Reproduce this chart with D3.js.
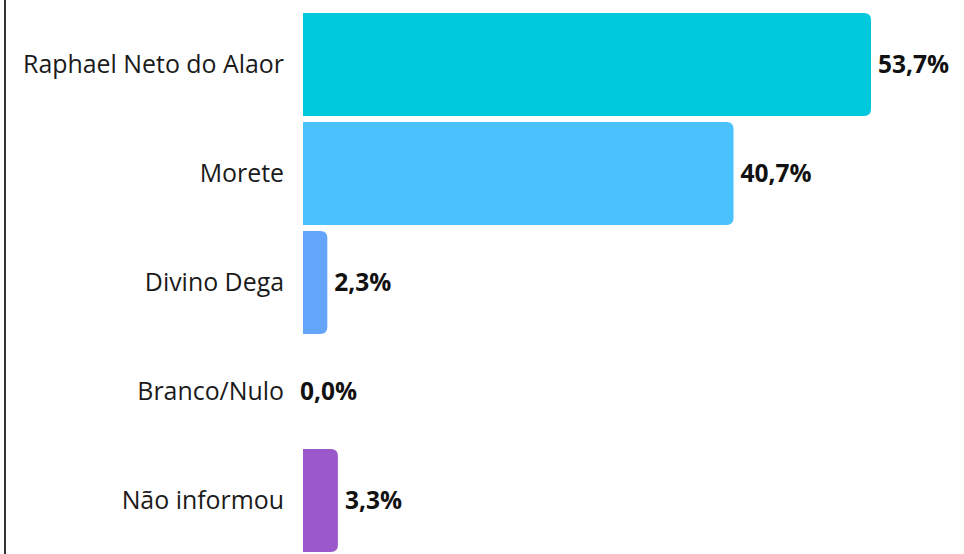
<!DOCTYPE html>
<html>
<head>
<meta charset="utf-8">
<script src="https://cdn.jsdelivr.net/npm/d3@7"></script>
<style>
  body { margin: 0; background: #fff; }
  svg { display: block; }
</style>
</head>
<body>
<script>
// candidatos e percentuais
var candidatos = ["Raphael Neto do Alaor", "Morete", "Divino Dega", "Branco/Nulo", "Não informou"];
var valores = [53.7, 40.7, 2.3, 0.0, 3.3];
var cores = ["#00c9dc", "#49c2fe", "#63a5fa", "#8e8e8e", "#9a58ca"];

var width = 964;
var height = 554;

var data = candidatos.map(function(c, i) {
  return { nome: c, valor: valores[i], cor: cores[i] };
});

var svg = d3.select("body")
  .append("svg")
  .attr("width", width)
  .attr("height", height);

// borda esquerda
svg.append("line")
  .attr("x1", 5).attr("x2", 5)
  .attr("y1", 0).attr("y2", height)
  .attr("stroke", "#333")
  .attr("stroke-width", 2);

var x = d3.scaleLinear()
  .domain([0, d3.max(valores)])
  .range([303, 871]);

var y = d3.scaleBand()
  .domain(candidatos)
  .range([10, 555])
  .paddingInner(0.055)
  .paddingOuter(0.0275);

var r = 7;

function barPath(d) {
  var x0 = x(0), x1 = x(d.valor), y0 = y(d.nome), h = y.bandwidth();
  var w = x1 - x0;
  if (w <= 0) return "";
  var rr = Math.min(r, w);
  return "M" + x0 + "," + y0 +
    "H" + (x1 - rr) +
    "Q" + x1 + "," + y0 + " " + x1 + "," + (y0 + rr) +
    "V" + (y0 + h - rr) +
    "Q" + x1 + "," + (y0 + h) + " " + (x1 - rr) + "," + (y0 + h) +
    "H" + x0 + "Z";
}

svg.selectAll("path.bar")
  .data(data)
  .enter()
  .append("path")
  .attr("class", "bar")
  .attr("d", barPath)
  .attr("fill", function(d) { return d.cor; });

svg.selectAll("text.nome")
  .data(data)
  .enter()
  .append("text")
  .attr("class", "nome")
  .attr("x", 284)
  .attr("y", function(d) { return y(d.nome) + y.bandwidth() / 2; })
  .attr("dy", "0.34em")
  .attr("text-anchor", "end")
  .style("font-family", "'Open Sans', sans-serif")
  .style("font-size", "24.9px")
  .attr("fill", "#1a1a1a")
  .text(function(d) { return d.nome; });

svg.selectAll("text.valor")
  .data(data)
  .enter()
  .append("text")
  .attr("class", "valor")
  .attr("x", function(d) { return d.valor > 0 ? x(d.valor) + 7 : x(0) - 3; })
  .attr("y", function(d) { return y(d.nome) + y.bandwidth() / 2; })
  .attr("dy", "0.35em")
  .style("font-family", "'Open Sans', sans-serif")
  .style("font-weight", "bold")
  .style("font-size", "24.5px")
  .attr("fill", "#111")
  .text(function(d) { return d3.format(".1f")(d.valor).replace(".", ",") + "%"; });
</script>
</body>
</html>
